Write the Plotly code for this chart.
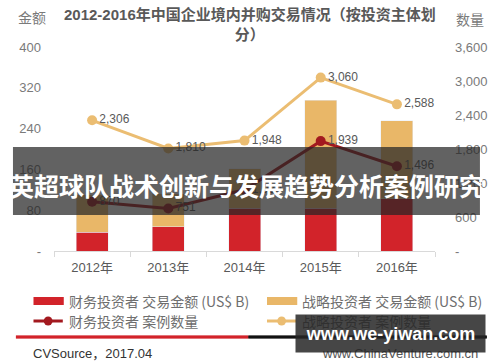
import base64
import plotly.graph_objects as go

# ---------------- data ----------------
years = ["2012年", "2013年", "2014年", "2015年", "2016年"]
fin_amount = [37, 48, 84, 84, 102]          # 财务投资者 交易金额 (US$ B)
str_amount = [73, 64, 77, 212, 153]         # 战略投资者 交易金额 (US$ B)
fin_count = [870, 751, 1080, 1939, 1496]    # 财务投资者 案例数量
str_count = [2306, 1810, 1948, 3060, 2588]  # 战略投资者 案例数量

left_tickvals = [0, 80, 160, 240, 320, 400]
left_ticktext = ["-", "80", "160", "240", "320", "400"]
right_tickvals = [0, 600, 1200, 1800, 2400, 3000, 3600]
right_ticktext = ["-", "600", "1,200", "1,800", "2,400", "3,000", "3,600"]

names = {
    "fin_amt": "财务投资者 交易金额 (US$ B)",
    "str_amt": "战略投资者 交易金额 (US$ B)",
    "fin_cnt": "财务投资者 案例数量",
    "str_cnt": "战略投资者 案例数量",
}
title_text = "2012-2016年中国企业境内并购交易情况（按投资主体划<br>分）"
banner_text = "英超球队战术创新与发展趋势分析案例研究"
watermark_text = "www.we-yiwan.com"
source_text = "CVSource，2017.04"
site_text = "www.ChinaVenture.com.cn"

# ---------------- style ----------------
RED = "#d2232a"
TAN = "#e9b768"
TAN_LINE = "#ebbd72"
DARKRED = "#a3191f"
GRAY = "#7a7a7a"
LABEL = "#595959"
LEG = "#6e6e6e"
FONT = "Liberation Sans, Noto Sans CJK SC, sans-serif"
CJK = "Noto Sans CJK SC, Liberation Sans, sans-serif"

W, H = 500, 362
ML, MR, MT, MB = 54, 56, 47, 111
PW = W - ML - MR
PH = H - MT - MB


def px2x(px):
    return (px - ML) / PW


def py2y(py):
    return (H - MB - py) / PH


fig = go.Figure()

fig.add_trace(go.Bar(x=years, y=fin_amount, name=names["fin_amt"], marker_color=RED,
                     width=0.42, showlegend=False, hoverinfo="skip"))
fig.add_trace(go.Bar(x=years, y=str_amount, name=names["str_amt"], marker_color=TAN,
                     width=0.42, showlegend=False, hoverinfo="skip"))

fig.add_trace(go.Scatter(x=years, y=str_count, yaxis="y2", mode="lines+markers+text",
                         name=names["str_cnt"],
                         line=dict(color=TAN_LINE, width=3),
                         marker=dict(color=TAN_LINE, size=10),
                         text=[f"{v:,}" for v in str_count], textposition="middle right",
                         textfont=dict(size=12, color=LABEL, family=FONT),
                         showlegend=False, hoverinfo="skip"))
fig.add_trace(go.Scatter(x=years, y=fin_count, yaxis="y2", mode="lines+markers+text",
                         name=names["fin_cnt"],
                         line=dict(color=DARKRED, width=3),
                         marker=dict(color=DARKRED, size=10),
                         text=[f"{v:,}" for v in fin_count], textposition="middle right",
                         textfont=dict(size=12, color=LABEL, family=FONT),
                         showlegend=False, hoverinfo="skip"))


def text(s, px, py, size, color, family, xanchor="center", weight="normal", **kw):
    d = dict(text=s, x=px2x(px), y=py2y(py), xref="paper", yref="paper",
             xanchor=xanchor, yanchor="middle", showarrow=False,
             font=dict(size=size, color=color, family=family, weight=weight))
    d.update(kw)
    return d


def rule(x0, x1, y, color):
    return dict(type="rect", xref="paper", yref="paper", x0=px2x(x0), x1=px2x(x1),
                y0=py2y(y + 1.5), y1=py2y(y - 1.5), fillcolor=color,
                line=dict(width=0), layer="above")


def swatch_bar(x0, y, color):
    return dict(type="rect", xref="paper", yref="paper", x0=px2x(x0), x1=px2x(x0 + 31),
                y0=py2y(y + 4), y1=py2y(y - 4), fillcolor=color,
                line=dict(width=0), layer="above")


def swatch_line(x0, y, color):
    return [
        dict(type="line", xref="paper", yref="paper", x0=px2x(x0), x1=px2x(x0 + 30),
             y0=py2y(y), y1=py2y(y), line=dict(color=color, width=3), layer="above"),
        dict(type="circle", xref="paper", yref="paper",
             x0=px2x(x0 + 15 - 4.5), x1=px2x(x0 + 15 + 4.5),
             y0=py2y(y + 4.5), y1=py2y(y - 4.5), fillcolor=color,
             line=dict(width=0), layer="above"),
    ]


ROW1, ROW2 = 301, 321
annotations = [
    dict(text=title_text, x=px2x(255), y=py2y(4), xref="paper", yref="paper",
         xanchor="center", yanchor="top", showarrow=False, align="center",
         font=dict(size=15, color=LABEL, family=FONT, weight="bold")),
    text("金额", 31, 17, 14, GRAY, CJK),
    text("数量", 480, 19, 14, GRAY, CJK),
    text(names["fin_amt"], 67, ROW1, 14, LEG, CJK, xanchor="left"),
    text(names["str_amt"], 306, ROW1, 14, LEG, CJK, xanchor="left"),
    text(names["fin_cnt"], 67, ROW2, 14, LEG, CJK, xanchor="left"),
    text(names["str_cnt"], 306, ROW2, 14, LEG, CJK, xanchor="left"),
    text(source_text, 30, 353, 13, "#333333", FONT, xanchor="left"),
    text(site_text, 490, 353, 13, "#555555", FONT, xanchor="right"),
    text(banner_text, 251, 185, 25, "white", CJK, weight="bold"),
    text(watermark_text, 398.5, 333.5, 18, "white", FONT, weight="bold",
         width=187, height=35, bgcolor="rgba(38,38,38,0.85)"),
]

shapes = [
    dict(type="rect", xref="paper", yref="paper", x0=px2x(12), x1=px2x(490),
         y0=py2y(215), y1=py2y(147), fillcolor="rgba(38,38,38,0.72)",
         line=dict(width=0), layer="above"),
    rule(15, 253, 337, RED),
    rule(253, 497, 337, "#111111"),
    swatch_bar(33, ROW1, RED),
    swatch_bar(272, ROW1, TAN),
    *swatch_line(33, ROW2, DARKRED),
    *swatch_line(272, ROW2, TAN_LINE),
]

# separator rule also as a small inline SVG image (fallback rendering path)
rule_svg = ('<svg xmlns="http://www.w3.org/2000/svg" width="482" height="3" '
            'viewBox="0 0 482 3" preserveAspectRatio="none">'
            '<rect x="0" y="0" width="238" height="3" fill="#d2232a"/>'
            '<rect x="238" y="0" width="244" height="3" fill="#111111"/></svg>')
rule_src = "data:image/svg+xml;base64," + base64.b64encode(rule_svg.encode()).decode()
images = [dict(source=rule_src, xref="paper", yref="paper",
               x=px2x(15), y=py2y(335.5), sizex=482 / PW, sizey=3 / PH,
               xanchor="left", yanchor="top", sizing="stretch", layer="below")]

fig.update_layout(
    width=W, height=H, margin=dict(l=ML, r=MR, t=MT, b=MB),
    paper_bgcolor="white", plot_bgcolor="white",
    barmode="stack", showlegend=False,
    font=dict(family=FONT, color=GRAY),
    xaxis=dict(showline=True, linecolor="#d9d9d9", linewidth=1, ticks="outside",
               tickson="boundaries", ticklen=5, tickcolor="#d9d9d9",
               tickfont=dict(size=13, color=LABEL, family=FONT), showgrid=False,
               ticklabelstandoff=4),
    yaxis=dict(range=[0, 400], tickvals=left_tickvals, ticktext=left_ticktext,
               showgrid=False, zeroline=False, showline=False,
               tickfont=dict(size=13, color=GRAY, family=FONT), ticklabelstandoff=12),
    yaxis2=dict(range=[0, 3600], tickvals=right_tickvals, ticktext=right_ticktext,
                overlaying="y", side="right", showgrid=False, zeroline=False,
                showline=False, tickfont=dict(size=13, color=GRAY, family=FONT),
                ticklabelstandoff=19),
    annotations=annotations,
    shapes=shapes,
    images=images,
)

fig.write_html("out.html")
